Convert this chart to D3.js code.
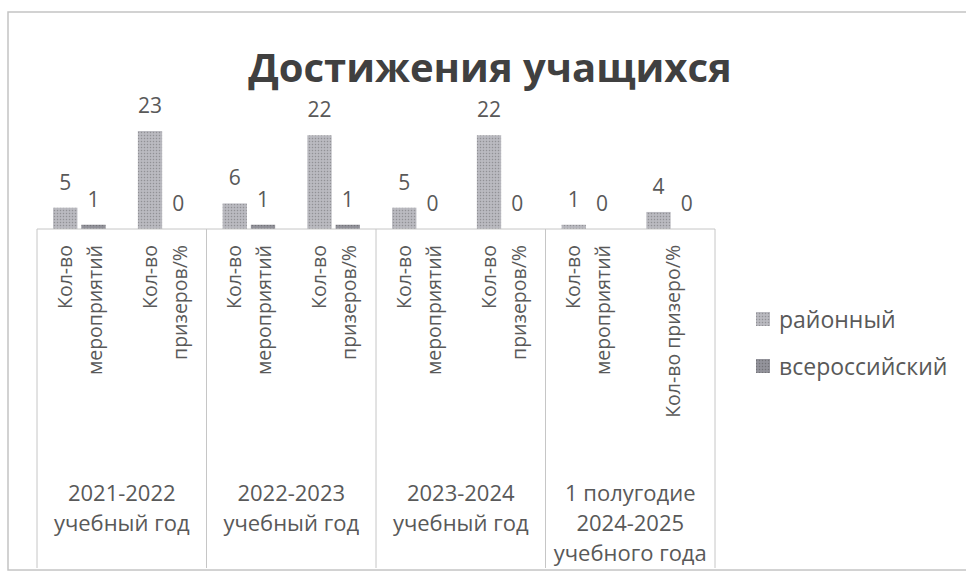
<!DOCTYPE html>
<html>
<head>
<meta charset="utf-8">
<script src="https://cdn.jsdelivr.net/npm/d3@7"></script>
<style>
  body { margin: 0; background: #fff; }
  text { font-family: "Open Sans", "Noto Sans", sans-serif; fill: #595959; }
</style>
</head>
<body>
<div id="canvas"></div>
<script>
const years = ["2021-2022|учебный год", "2022-2023|учебный год", "2023-2024|учебный год", "1 полугодие|2024-2025|учебного года"];
const subs = ["Кол-во|мероприятий", "Кол-во|призеров/%"];
const subLabels = [
    ["Кол-во|мероприятий", "Кол-во|призеров/%"],
    ["Кол-во|мероприятий", "Кол-во|призеров/%"],
    ["Кол-во|мероприятий", "Кол-во|призеров/%"],
    ["Кол-во|мероприятий", "Кол-во призеро/%"]
];
const series = ["районный", "всероссийский"];
const rayonny = [5, 23, 6, 22, 5, 22, 1, 4];
const vseross = [1, 0, 1, 1, 0, 0, 0, 0];

const width = 966;
const height = 581;
const left = 37, right = 715, base = 229, axisBottom = 568;

const svg = d3.select("#canvas").append("svg")
    .attr("width", width)
    .attr("height", height);

// textures for the bars
const defs = svg.append("defs");
const colors = ["#b3b3b9", "#8e8e95"];
colors.forEach((c, i) => {
    const p = defs.append("pattern")
        .attr("id", "tex" + i)
        .attr("width", 3).attr("height", 3)
        .attr("patternUnits", "userSpaceOnUse");
    p.append("rect").attr("width", 3).attr("height", 3).attr("fill", c);
    p.append("rect").attr("width", 1).attr("height", 1).attr("fill", d3.color(c).darker(0.6));
    p.append("rect").attr("x", 1.5).attr("y", 1.5).attr("width", 1).attr("height", 1).attr("fill", d3.color(c).brighter(0.4));
});

// outer chart border
svg.append("rect")
    .attr("x", 8).attr("y", 12)
    .attr("width", 990).attr("height", 558)
    .attr("fill", "none")
    .attr("stroke", "#c4c4c4")
    .attr("stroke-width", 1.5);

svg.append("text")
    .attr("x", 490).attr("y", 82)
    .attr("text-anchor", "middle")
    .style("font-size", "40px")
    .style("font-weight", "bold")
    .style("fill", "#404040")
    .text("Достижения учащихся");

const x0 = d3.scaleBand().domain(years).range([left, right]);
const x1 = d3.scaleBand().domain(subs).range([0, x0.bandwidth()]);
const x2 = d3.scaleBand().domain(series).range([0, x1.bandwidth()])
    .paddingInner(0.14).paddingOuter(0.57);
const y = d3.scaleLinear().domain([0, 25]).range([base, 122.5]);

const data = [];
years.forEach((yr, i) => {
    subs.forEach((s, j) => {
        const k = i * 2 + j;
        [rayonny[k], vseross[k]].forEach((v, si) => {
            data.push({ yr, s, ser: series[si], si, v });
        });
    });
});

const g = svg.append("g");

g.selectAll("rect.bar").data(data).enter().append("rect")
    .attr("class", "bar")
    .attr("x", d => x0(d.yr) + x1(d.s) + x2(d.ser))
    .attr("y", d => y(d.v))
    .attr("width", x2.bandwidth())
    .attr("height", d => base - y(d.v))
    .attr("fill", d => `url(#tex${d.si})`);

g.selectAll("text.val").data(data).enter().append("text")
    .attr("class", "val")
    .attr("x", d => x0(d.yr) + x1(d.s) + x2(d.ser) + x2.bandwidth() / 2)
    .attr("y", d => y(d.v) - 18)
    .attr("text-anchor", "middle")
    .style("font-size", "21px")
    .text(d => d.v);

// category axis box
const axis = svg.append("g").attr("stroke", "#c6c6c6").attr("stroke-width", 1);
axis.append("line")
    .attr("x1", left).attr("x2", right)
    .attr("y1", base).attr("y2", base);
const edges = years.map(d => x0(d)).concat([right]);
axis.selectAll("line.v").data(edges).enter().append("line")
    .attr("class", "v")
    .attr("x1", d => d).attr("x2", d => d)
    .attr("y1", base).attr("y2", axisBottom);

// rotated sub category labels
years.forEach((yr, i) => {
    subs.forEach((s, j) => {
        const lines = subLabels[i][j].split("|");
        const cx = x0(yr) + x1(s) + x1.bandwidth() / 2;
        lines.forEach((ln, li) => {
            const lx = cx + (li - (lines.length - 1) / 2) * 30;
            svg.append("text")
                .attr("transform", `translate(${lx},245) rotate(-90)`)
                .attr("text-anchor", "end")
                .attr("dominant-baseline", "central")
                .style("font-size", "19.5px")
                .text(ln);
        });
    });
    yr.split("|").forEach((ln, li) => {
        svg.append("text")
            .attr("x", x0(yr) + x0.bandwidth() / 2)
            .attr("y", 492 + li * 30)
            .attr("text-anchor", "middle")
            .attr("dominant-baseline", "central")
            .style("font-size", "22px")
            .text(ln);
    });
});

// legend
const legend = svg.append("g").selectAll("g").data(series).enter().append("g")
    .attr("transform", (d, i) => `translate(756,${319 + i * 47})`);
legend.append("rect")
    .attr("x", 0).attr("y", -7)
    .attr("width", 14).attr("height", 14)
    .attr("fill", (d, i) => `url(#tex${i})`);
legend.append("text")
    .attr("x", 23).attr("y", 0)
    .attr("dominant-baseline", "central")
    .style("font-size", "23px")
    .text(d => d);
</script>
</body>
</html>
